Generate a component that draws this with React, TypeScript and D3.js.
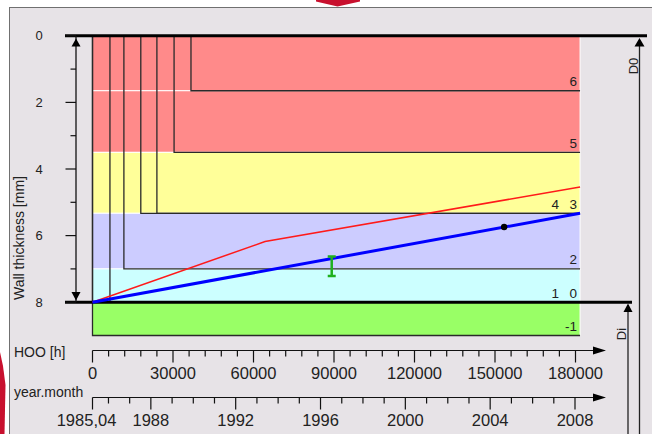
import { useEffect, useRef } from "react";
import * as d3 from "d3";

// wall elements: number, operating hours when it starts, depth reached (mm)
const elementIds = ["6", "5", "4", "3", "2", "1", "0", "-1"];
const elementStart = [36700, 30400, 24000, 18000, 11700, 6500, 0, 0];
const elementDepth = [1.65, 3.5, 5.33, 5.33, 7.0, 8.0, 8.0, 9.0];

// coloured zones through the wall (mm)
const zoneDepths = [0, 1.65, 3.5, 5.33, 7.0, 8.0, 9.0];
const zoneColors = ["#ff8a8a", "#ff8a8a", "#ffff99", "#ccccff", "#ccffff", "#99ff66"];

const currentHours = 181700;
const outerWall = 0; // D0
const innerWall = 8; // Di

// blue: calculated wall, red: limit curve
const blueHours = [0, 181700];
const blueDepth = [8.0, 5.33];
const redHours = [0, 64300, 181700];
const redDepth = [8.0, 6.18, 4.54];

// measurement point and measured range
const pointHours = 153400;
const pointDepth = 5.74;
const rangeHours = 89150;
const rangeDepth = [6.63, 7.21];

// axes
const depthTicks = [0, 1, 2, 3, 4, 5, 6, 7, 8];
const depthLabels = [0, 2, 4, 6, 8];
const hooTicks = [0, 30000, 60000, 90000, 120000, 150000, 180000];
const hooMinorStep = 6000;
const yearStart = new Date(1985, 3, 1);
const yearStartLabel = "1985,04";
const yearTicks = [1988, 1992, 1996, 2000, 2004, 2008];
const yearMinor = [1986, 1987, 1989, 1990, 1991, 1993, 1994, 1995, 1997, 1998, 1999, 2001, 2002, 2003, 2005, 2006, 2007];

export default function App() {
    const svgRef = useRef<SVGSVGElement>(null);
    const width = 652, height = 434;

    useEffect(() => {
        const svg = d3.select(svgRef.current);
        svg.selectAll("*").remove();
        svg.attr("width", width).attr("height", height);

        const font = "'Liberation Sans', Arial, sans-serif";
        const x = d3.scaleLinear().domain([0, 180000]).range([92.5, 575.5]);
        const y = d3.scaleLinear().domain([0, 8]).range([35.8, 302.2]);
        const t = d3.scaleTime().domain([yearStart, new Date(2008, 0, 1)]).range([92.5, 575]);
        const xEnd = x(currentHours);

        // panel
        svg.append("rect")
            .attr("x", 9.5).attr("y", 7.5).attr("width", 660).attr("height", 440)
            .attr("fill", "#e7e3e7").attr("stroke", "#707070");
        // bits of the page around the panel
        svg.append("path").attr("d", "M316,0H360V1.5L337.5,6.5L316,1.5Z").attr("fill", "#c8102e");
        svg.append("path").attr("d", "M0,352L3,366L5.5,385L4.5,434H0Z").attr("fill", "#c8102e");

        // zones
        svg.append("g").selectAll("rect")
            .data(zoneColors)
            .join("rect")
                .attr("x", x(0))
                .attr("y", (d, i) => y(zoneDepths[i]))
                .attr("width", xEnd - x(0))
                .attr("height", (d, i) => y(zoneDepths[i + 1]) - y(zoneDepths[i]))
                .attr("fill", d => d)
                .attr("stroke", "#fff");

        // element outlines
        svg.append("g").selectAll("path")
            .data(elementIds)
            .join("path")
                .attr("d", (d, i) => `M${x(elementStart[i])},${y(0)}V${y(elementDepth[i])}H${xEnd}`)
                .attr("fill", "none")
                .attr("stroke", "#2a2a2a")
                .attr("stroke-width", 1.3);

        // D0 / Di levels
        svg.append("line")
            .attr("x1", 65).attr("x2", 647).attr("y1", y(outerWall)).attr("y2", y(outerWall))
            .attr("stroke", "#000").attr("stroke-width", 3);
        svg.append("line")
            .attr("x1", 65).attr("x2", 632).attr("y1", y(innerWall)).attr("y2", y(innerWall))
            .attr("stroke", "#000").attr("stroke-width", 3);

        // y axis
        const ax = 76;
        svg.append("line")
            .attr("x1", ax).attr("x2", ax).attr("y1", y(0)).attr("y2", y(8))
            .attr("stroke", "#111").attr("stroke-width", 1.3);
        svg.append("g").selectAll("line")
            .data(depthTicks)
            .join("line")
                .attr("x1", d => (d % 2 === 0 ? 65.5 : 70.5))
                .attr("x2", ax)
                .attr("y1", d => y(d)).attr("y2", d => y(d))
                .attr("stroke", "#111").attr("stroke-width", 1.2);
        svg.append("g").selectAll("text")
            .data(depthLabels)
            .join("text")
                .attr("x", 39).attr("y", d => y(d) + 4.6)
                .attr("text-anchor", "middle")
                .style("font", `13px ${font}`)
                .attr("fill", "#222")
                .text(d => d);
        svg.append("path").attr("d", `M${ax},38.5L${ax - 4.5},46.5H${ax + 4.5}Z`).attr("fill", "#000");
        svg.append("path").attr("d", `M${ax - 4.5},292H${ax + 4.5}L${ax},300.5Z`).attr("fill", "#000");
        svg.append("text")
            .attr("transform", `translate(24, 238) rotate(-90)`)
            .attr("text-anchor", "middle")
            .style("font", `14px ${font}`)
            .attr("fill", "#222")
            .text("Wall thickness [mm]");

        // curves
        svg.append("path")
            .attr("d", d3.line<number>().x(d => x(d)).y((d, i) => y(redDepth[i]))(redHours))
            .attr("fill", "none").attr("stroke", "#ff1a1a").attr("stroke-width", 1.5);
        svg.append("path")
            .attr("d", d3.line<number>().x(d => x(d)).y((d, i) => y(blueDepth[i]))(blueHours))
            .attr("fill", "none").attr("stroke", "#0000ff").attr("stroke-width", 3);

        // measured range
        const rx = x(rangeHours);
        svg.append("path")
            .attr("d", `M${rx - 4},${y(rangeDepth[0])}H${rx + 4}M${rx},${y(rangeDepth[0])}V${y(rangeDepth[1])}M${rx - 4},${y(rangeDepth[1])}H${rx + 4}`)
            .attr("fill", "none").attr("stroke", "#1eb01e").attr("stroke-width", 2.5);
        svg.append("circle")
            .attr("cx", x(pointHours)).attr("cy", y(pointDepth)).attr("r", 3.2)
            .attr("fill", "#000");

        // element numbers
        svg.append("g").selectAll("text")
            .data(elementIds)
            .join("text")
                .attr("x", (d, i) => {
                    let k = 0;
                    for (let j = i + 1; j < elementIds.length; j++) if (elementDepth[j] === elementDepth[i]) k++;
                    return xEnd - 3 - k * 18;
                })
                .attr("y", (d, i) => (i === elementIds.length - 1 ? y(9) : y(elementDepth[i])) - 4.5)
                .attr("text-anchor", "end")
                .style("font", `13.5px ${font}`)
                .attr("fill", "#222")
                .text(d => d);

        // HOO axis
        const hy = 350.5;
        svg.append("text")
            .attr("x", 14).attr("y", 357)
            .style("font", `14px ${font}`).attr("fill", "#222")
            .text("HOO [h]");
        svg.append("line")
            .attr("x1", x(0)).attr("x2", 596).attr("y1", hy).attr("y2", hy)
            .attr("stroke", "#111").attr("stroke-width", 1.2);
        svg.append("path").attr("d", `M593,${hy - 4}L606,${hy}L593,${hy + 4}Z`).attr("fill", "#000");
        svg.append("g").selectAll("line")
            .data(d3.range(0, 180001, hooMinorStep))
            .join("line")
                .attr("x1", d => x(d)).attr("x2", d => x(d))
                .attr("y1", hy)
                .attr("y2", d => (d % 30000 === 0 ? hy + 12 : hy + 6))
                .attr("stroke", "#111").attr("stroke-width", 1.2);
        svg.append("g").selectAll("text")
            .data(hooTicks)
            .join("text")
                .attr("x", d => x(d)).attr("y", 379)
                .attr("text-anchor", "middle")
                .style("font", `16.5px ${font}`).attr("fill", "#222")
                .text(d => d);

        // year axis
        const ty = 397.5;
        svg.append("text")
            .attr("x", 14).attr("y", 397)
            .style("font", `14px ${font}`).attr("fill", "#222")
            .text("year.month");
        svg.append("line")
            .attr("x1", t(yearStart)).attr("x2", 596).attr("y1", ty).attr("y2", ty)
            .attr("stroke", "#111").attr("stroke-width", 1.2);
        svg.append("path").attr("d", `M593,${ty - 4}L606,${ty}L593,${ty + 4}Z`).attr("fill", "#000");
        svg.append("g").selectAll("line")
            .data(yearMinor)
            .join("line")
                .attr("x1", d => t(new Date(d, 0, 1))).attr("x2", d => t(new Date(d, 0, 1)))
                .attr("y1", ty).attr("y2", ty + 6)
                .attr("stroke", "#111").attr("stroke-width", 1.2);
        svg.append("g").selectAll("line")
            .data([yearStart, ...yearTicks.map(d => new Date(d, 0, 1))])
            .join("line")
                .attr("x1", d => t(d)).attr("x2", d => t(d))
                .attr("y1", ty).attr("y2", ty + 12)
                .attr("stroke", "#111").attr("stroke-width", 1.2);
        svg.append("g").selectAll("text")
            .data(yearTicks)
            .join("text")
                .attr("x", d => t(new Date(d, 0, 1))).attr("y", 426)
                .attr("text-anchor", "middle")
                .style("font", `16.5px ${font}`).attr("fill", "#222")
                .text(d => d);
        svg.append("text")
            .attr("x", t(yearStart) - 6).attr("y", 426)
            .attr("text-anchor", "middle")
            .style("font", `16.5px ${font}`).attr("fill", "#222")
            .text(yearStartLabel);

        // D0 / Di dimension lines
        svg.append("line")
            .attr("x1", 639.5).attr("x2", 639.5).attr("y1", 40).attr("y2", height)
            .attr("stroke", "#222").attr("stroke-width", 1.3);
        svg.append("path").attr("d", "M639.5,38L634.5,46.5H644.5Z").attr("fill", "#000");
        svg.append("line")
            .attr("x1", 628).attr("x2", 628).attr("y1", 305).attr("y2", height)
            .attr("stroke", "#222").attr("stroke-width", 1.3);
        svg.append("path").attr("d", "M628,303.5L623.5,312H632.5Z").attr("fill", "#000");
        svg.append("text")
            .attr("transform", "translate(637.5, 66) rotate(-90)")
            .attr("text-anchor", "middle")
            .style("font", `13px ${font}`).attr("fill", "#222")
            .text("D0");
        svg.append("text")
            .attr("transform", "translate(625.5, 334) rotate(-90)")
            .attr("text-anchor", "middle")
            .style("font", `13px ${font}`).attr("fill", "#222")
            .text("Di");
    }, []);

    return (
        <svg ref={svgRef} style={{ position: "absolute", left: 0, top: 0, background: "#fff" }}></svg>
    );
}
